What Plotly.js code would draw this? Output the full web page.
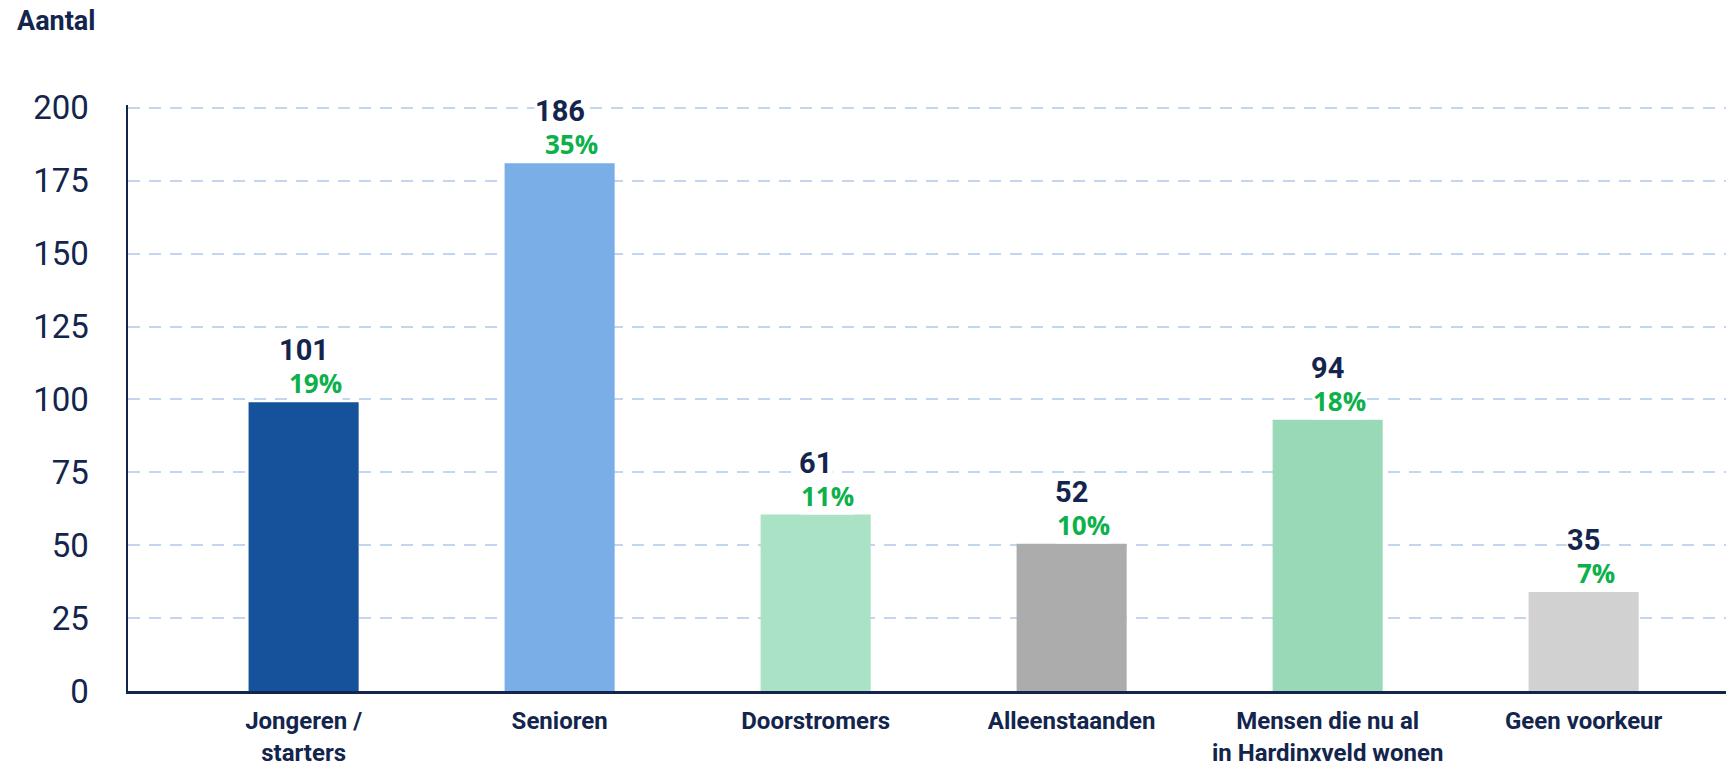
<!DOCTYPE html>
<html>
<head>
<meta charset="utf-8">
<script src="https://cdn.plot.ly/plotly-3.0.1.min.js"></script>
<style>html,body{margin:0;padding:0;background:#fff;}#chart{width:1726px;height:771px;}</style>
</head>
<body>
<div id="chart"></div>
<script>
// Categories (x tick labels)
const categories = ["Jongeren /<br>starters", "Senioren", "Doorstromers", "Alleenstaanden", "Mensen die nu al<br>in Hardinxveld wonen", "Geen voorkeur"];
// Bar heights as drawn in the reference
const barHeights = [99, 181, 60.5, 50.5, 93, 34];
// Count labels shown above bars
const countLabels = ["101", "186", "61", "52", "94", "35"];
// Percentage labels
const pctLabels = ["19%", "35%", "11%", "10%", "18%", "7%"];
// Bar colours
const barColors = ["#16519c", "#7aaee6", "#a9e2c5", "#acacac", "#99d9b7", "#d1d1d1"];
const yTicks = [0, 25, 50, 75, 100, 125, 150, 175, 200];

const navy = "#14254d";
const green = "#0db14b";

const trace = {
  type: "bar",
  x: categories,
  y: barHeights,
  marker: {color: barColors, line: {width: 0}},
  width: 0.43,
  hoverinfo: "none"
};

const annotations = [];
categories.forEach((c, i) => {
  annotations.push({
    x: c, y: barHeights[i], xref: "x", yref: "y",
    text: "<b>" + countLabels[i] + "</b>", showarrow: false,
    yanchor: "middle", xanchor: "center", yshift: 52,
    bgcolor: "#ffffff", borderpad: 0,
    font: {family: "Roboto", size: 29, color: navy}
  });
  annotations.push({
    x: c, y: barHeights[i], xref: "x", yref: "y",
    text: "<b>" + pctLabels[i] + "</b>", showarrow: false,
    yanchor: "bottom", xanchor: "center", yshift: 0, xshift: 12,
    bgcolor: "#ffffff", borderpad: 0,
    font: {family: "Open Sans", size: 26, color: green}
  });
});
annotations.push({
  xref: "paper", yref: "paper", x: -0.071, y: 1.0, yshift: 84,
  xanchor: "left", yanchor: "middle", showarrow: false,
  text: "<b>Aantal</b>",
  font: {family: "Roboto", size: 27, color: navy}
});

const layout = {
  width: 1726, height: 771,
  margin: {l: 128, r: 0, t: 105, b: 80},
  paper_bgcolor: "#ffffff", plot_bgcolor: "#ffffff",
  showlegend: false,
  xaxis: {
    type: "category",
    range: [-0.686, 5.556],
    showline: true, linecolor: navy, linewidth: 2.5,
    showgrid: false, zeroline: false,
    ticks: "", ticklabelstandoff: 7,
    tickfont: {family: "Roboto", size: 24, color: navy, weight: 700},
    fixedrange: true
  },
  yaxis: {
    range: [0, 201],
    tickvals: yTicks,
    ticktext: yTicks.map(String),
    showline: true, linecolor: navy, linewidth: 2.5,
    showgrid: true, gridcolor: "#c3d5ef", gridwidth: 2, griddash: "12px,9px",
    zeroline: false,
    ticks: "", ticklabelstandoff: 30,
    tickfont: {family: "Roboto", size: 33, color: navy},
    fixedrange: true
  },
  annotations: annotations
};

Plotly.newPlot("chart", [trace], layout, {displayModeBar: false, staticPlot: true});
</script>
</body>
</html>
